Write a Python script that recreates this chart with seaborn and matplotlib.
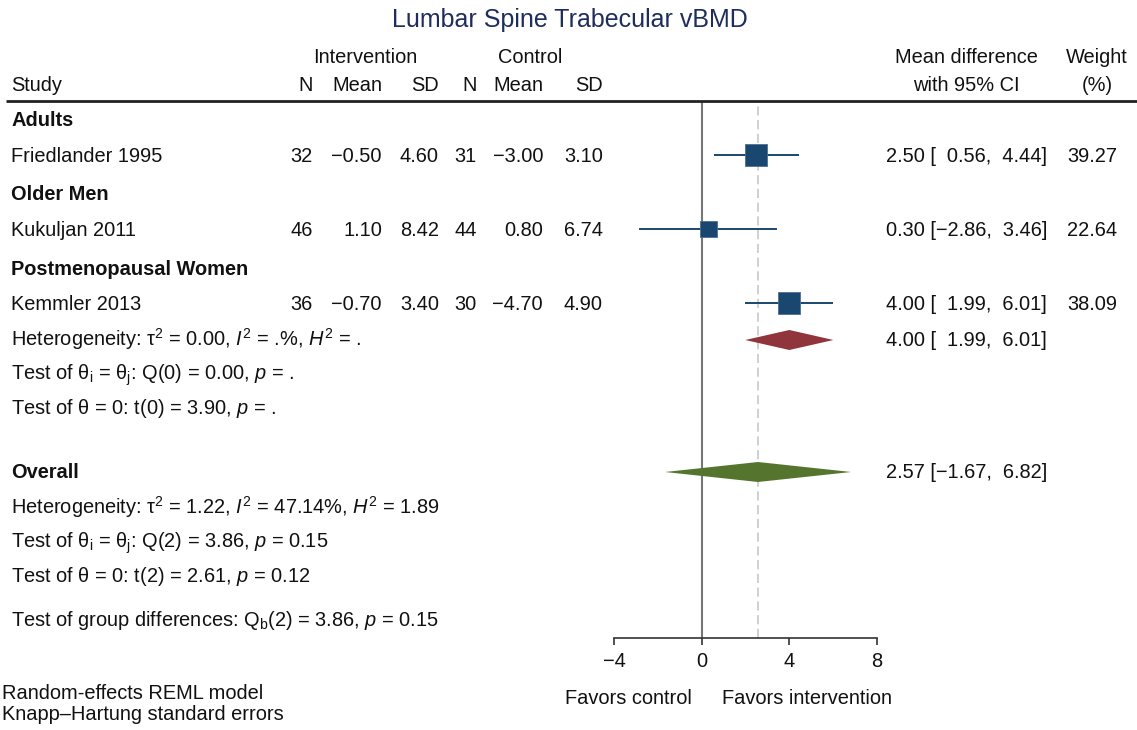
import matplotlib
matplotlib.use("Agg")
import matplotlib.pyplot as plt
import matplotlib.transforms as mtransforms
import pandas as pd
import seaborn as sns

# ---- data -------------------------------------------------------------
groups = ["Adults", "Older Men", "Postmenopausal Women"]
studies = ["Friedlander 1995", "Kukuljan 2011", "Kemmler 2013"]
n_int = [32, 46, 36]
mean_int = [-0.50, 1.10, -0.70]
sd_int = [4.60, 8.42, 3.40]
n_ctl = [31, 44, 30]
mean_ctl = [-3.00, 0.80, -4.70]
sd_ctl = [3.10, 6.74, 4.90]
md = [2.50, 0.30, 4.00]
ci_lo = [0.56, -2.86, 1.99]
ci_hi = [4.44, 3.46, 6.01]
weight = [39.27, 22.64, 38.09]

subgroup_est = [4.00, 1.99, 6.01]       # Postmenopausal Women pooled
overall_est = [2.57, -1.67, 6.82]       # all studies pooled
x_ticks = [-4, 0, 4, 8]

# ---- style ------------------------------------------------------------
sns.set_theme(style="white")
plt.rcParams["font.family"] = ["Liberation Sans", "DejaVu Sans"]
plt.rcParams["mathtext.fontset"] = "custom"
plt.rcParams["mathtext.rm"] = "Liberation Sans"
plt.rcParams["mathtext.it"] = "Liberation Sans:italic"
plt.rcParams["mathtext.bf"] = "Liberation Sans:bold"

NAVY = "#1a476f"
MAROON = "#90353b"
OLIVE = "#55752f"
TITLE = "#1f2d5c"
FS = 14.4

W, H = 1137, 730
fig = plt.figure(figsize=(W / 100, H / 100), dpi=100)
ax = fig.add_axes([614 / W, (H - 638) / H, (877 - 614) / W, (638 - 101) / H])
ax.set_xlim(-4, 8)
ax.set_ylim(638, 101)

# x in figure pixels, y in row units of the forest axes
T = mtransforms.blended_transform_factory(
    mtransforms.Affine2D().scale(1 / W, 1 / H) + fig.transFigure, ax.transData)

# row layout (vertical centres)
group_rows = [120, 193.5, 268.5]
study_rows = [155, 229, 303]
sub_rows = [339, 373, 407]
overall_row = 472
overall_stat_rows = [507, 541.5, 576]
groupdiff_row = 620
BASE = 6.5


def put(x, yc, s, ha="left", size=FS, **kw):
    ax.text(x, yc + BASE, s, transform=T, ha=ha, va="baseline",
            fontsize=size, color=kw.pop("color", "#111111"), **kw)


def num(v):
    s = f"{abs(v):.2f}"
    return ("\u2212" + s) if v < 0 else s


def ci_text(e, lo, hi):
    def pad(v):
        return ("\u2212" + f"{abs(v):.2f}") if v < 0 else ("  " + f"{v:.2f}")
    return f"{num(e)} [{pad(lo)},{pad(hi)}]"


# ---- title and headers -----------------------------------------------
ax.text(570, 27.5, "Lumbar Spine Trabecular vBMD", transform=T, ha="center",
        va="baseline", fontsize=18, color=TITLE)

col_right = [313, 382, 439, 477, 543, 603]
put(365, 63 - BASE, "Intervention", ha="center")
put(530, 63 - BASE, "Control", ha="center")
put(11, 91 - BASE, "Study")
for x, lab in zip(col_right, ["N", "Mean", "SD", "N", "Mean", "SD"]):
    put(x, 91 - BASE, lab, ha="right")
put(966, 63 - BASE, "Mean difference", ha="center")
put(966, 91 - BASE, "with 95% CI", ha="center")
put(1097, 63 - BASE, "Weight", ha="center")
put(1097, 91 - BASE, "(%)", ha="center")

ax.plot([6, W], [101, 101], transform=T, color="#222222", lw=2,
        clip_on=False, solid_capstyle="butt")

# ---- reference lines ----------------------------------------------------
ax.axvline(0, color="#777777", lw=1.5, zorder=1)
ax.axvline(overall_est[0], color="#c4c4c4", lw=1.1, ls=(0, (6, 3)), zorder=1)

# ---- studies -------------------------------------------------------------
df = pd.DataFrame({"study": studies, "md": md, "lo": ci_lo, "hi": ci_hi,
                   "w": weight, "row": study_rows})
ax.hlines(df["row"], df["lo"], df["hi"], color=NAVY, lw=1.4, zorder=3)
side_pt = 22 * 0.72
sizes = [(side_pt ** 2) * w / max(weight) for w in weight]
sns.scatterplot(data=df, x="md", y="row", marker="s", s=sizes, color=NAVY,
                edgecolor="#4d6f93", linewidth=0.6, ax=ax, legend=False,
                zorder=4, clip_on=False)


def diamond(est, lo, hi, y, color, half=10):
    ax.fill([lo, est, hi, est], [y, y - half, y, y + half], color=color,
            lw=0, zorder=4, clip_on=False)


for g, yr in zip(groups, group_rows):
    put(11, yr, g, fontweight="bold")
for i, yr in enumerate(study_rows):
    put(11, yr, studies[i])
    vals = [str(n_int[i]), num(mean_int[i]), num(sd_int[i]),
            str(n_ctl[i]), num(mean_ctl[i]), num(sd_ctl[i])]
    for x, v in zip(col_right, vals):
        put(x, yr, v, ha="right")
    put(1047, yr, ci_text(md[i], ci_lo[i], ci_hi[i]), ha="right")
    put(1117, yr, f"{weight[i]:.2f}", ha="right")

# subgroup summary
diamond(subgroup_est[0], subgroup_est[1], subgroup_est[2], sub_rows[0] + 1, MAROON)
put(1047, sub_rows[0], ci_text(*subgroup_est), ha="right")
put(11, sub_rows[0], r"Heterogeneity: τ$^2$ = 0.00, $I^2$ = .%, $H^2$ = .")
put(11, sub_rows[1], r"Test of θ$_\mathrm{i}$ = θ$_\mathrm{j}$: Q(0) = 0.00, $p$ = .")
put(11, sub_rows[2], r"Test of θ = 0: t(0) = 3.90, $p$ = .")

# overall
diamond(overall_est[0], overall_est[1], overall_est[2], overall_row, OLIVE)
put(11, overall_row, "Overall", fontweight="bold")
put(1047, overall_row, ci_text(*overall_est), ha="right")
put(11, overall_stat_rows[0], r"Heterogeneity: τ$^2$ = 1.22, $I^2$ = 47.14%, $H^2$ = 1.89")
put(11, overall_stat_rows[1], r"Test of θ$_\mathrm{i}$ = θ$_\mathrm{j}$: Q(2) = 3.86, $p$ = 0.15")
put(11, overall_stat_rows[2], r"Test of θ = 0: t(2) = 2.61, $p$ = 0.12")
put(11, groupdiff_row, r"Test of group differences: Q$_\mathrm{b}$(2) = 3.86, $p$ = 0.15")

# ---- axis ---------------------------------------------------------------
for sp in ["left", "right", "top"]:
    ax.spines[sp].set_visible(False)
ax.spines["bottom"].set_color("#333333")
ax.spines["bottom"].set_linewidth(1.2)
ax.set_yticks([])
ax.set_xticks(x_ticks)
ax.set_xticklabels([num(t).replace(".00", "") for t in x_ticks])
ax.tick_params(axis="x", bottom=True, direction="out", length=5, width=1.2,
               color="#333333", labelsize=FS, labelcolor="#111111", pad=5)
ax.set_xlabel("")
ax.set_ylabel("")

ax.text(692, 704, "Favors control", transform=T, ha="right", va="baseline",
        fontsize=FS, color="#111111")
ax.text(721.5, 704, "Favors intervention", transform=T, ha="left",
        va="baseline", fontsize=FS, color="#111111")

ax.text(2, 699, "Random-effects REML model", transform=T, ha="left",
        va="baseline", fontsize=FS, color="#111111")
ax.text(2, 720, "Knapp\u2013Hartung standard errors", transform=T,
        ha="left", va="baseline", fontsize=FS, color="#111111")

fig.savefig("out.png", dpi=100)
